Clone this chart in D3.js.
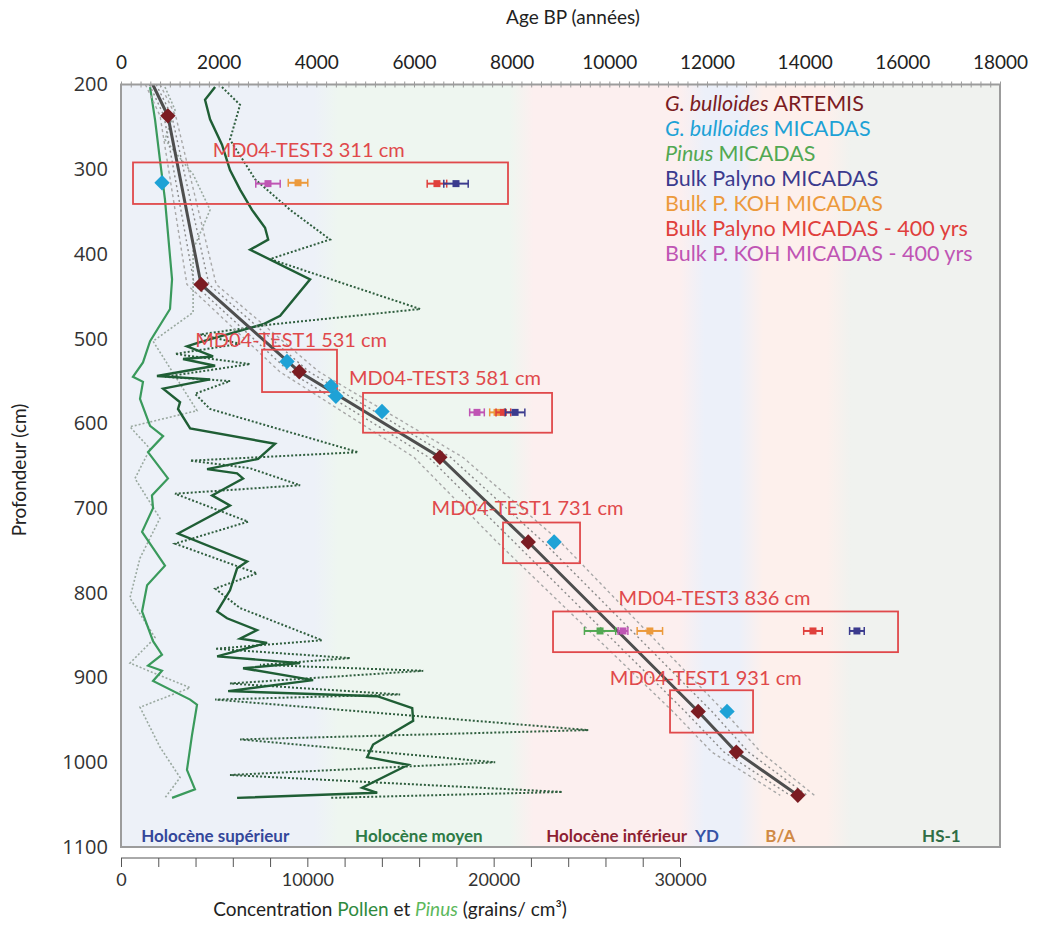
<!DOCTYPE html>
<html>
<head>
<meta charset="utf-8">
<script src="https://cdn.jsdelivr.net/npm/d3@7"></script>
<style>
  body { margin: 0; background: #fff; }
  svg { display: block; font-family: Lato, 'Open Sans', sans-serif; }
</style>
</head>
<body>
<svg id="chart"></svg>
<script>
// age model (G. bulloides ARTEMIS), depth in cm, age in years BP
const modelDepth = [200, 237, 436, 539, 640, 740, 940, 988, 1039];
const modelAge = [650, 960, 1640, 3650, 6530, 8340, 11820, 12600, 13860];
const outerLo = [500, 800, 1350, 3250, 6000, 7700, 11300, 12100, 13500];
const outerHi = [800, 1120, 1950, 4050, 7000, 9000, 12350, 13100, 14200];
const innerLo = [580, 880, 1500, 3450, 6300, 8050, 11550, 12350, 13700];
const innerHi = [720, 1040, 1800, 3850, 6750, 8650, 12100, 12850, 14050];

const artemisDepth = [237, 436, 539, 640, 740, 940, 988, 1039];
const artemisAge = [960, 1640, 3650, 6530, 8340, 11820, 12600, 13860];

const micadasDepth = [316, 527, 556, 568, 586, 740, 940];
const micadasAge = [840, 3400, 4300, 4400, 5345, 8870, 12410];

// dated samples with error bars
const sampleSeries = ['koh400', 'koh', 'palyno400', 'palyno', 'koh400', 'koh', 'palyno400', 'palyno', 'pinus', 'koh400', 'koh', 'palyno400', 'palyno'];
const sampleDepth = [317, 316, 317, 317, 587, 587, 587, 587, 845, 845, 845, 845, 845];
const sampleAge = [3010, 3625, 6470, 6860, 7290, 7700, 7830, 8070, 9810, 10280, 10830, 14170, 15070];
const sampleErr = [250, 200, 200, 250, 150, 150, 150, 200, 320, 100, 260, 190, 150];

// annotation boxes (age / depth extents)
const boxLabels = ['MD04-TEST3 311 cm', 'MD04-TEST1 531 cm', 'MD04-TEST3 581 cm', 'MD04-TEST1 731 cm', 'MD04-TEST3 836 cm', 'MD04-TEST1 931 cm'];
const boxAge0 = [246, 2888, 4956, 7823, 8847, 11243];
const boxAge1 = [7925, 4423, 8827, 9400, 15912, 12943];
const boxDepth0 = [292, 513, 564, 717, 822, 915];
const boxDepth1 = [341, 563, 611, 765, 870, 965];
const labelAge = [1880, 1520, 4670, 6360, 10190, 10010];
const labelDepth = [277, 501, 546, 700, 806, 900];

// pollen concentration (grains/cm3) vs depth
const pollenDepth = [203, 218, 241, 271, 301, 324, 348, 369, 383, 395, 430, 473, 483, 504, 509, 521, 524, 532, 544, 548, 559, 575, 583, 606, 624, 642, 654, 659, 665, 685, 697, 730, 763, 771, 797, 822, 830, 844, 854, 859, 875, 883, 889, 903, 916, 922, 936, 951, 979, 994, 1003, 1030, 1036, 1042];
const pollenConc = [5050, 4510, 4780, 5420, 5850, 6390, 7030, 7730, 7900, 6930, 10150, 8540, 7630, 4240, 3540, 4940, 3330, 5050, 1930, 4780, 2260, 3170, 3060, 3710, 8270, 7360, 4620, 6230, 6550, 4890, 5850, 3060, 6770, 6230, 5850, 5160, 5690, 7300, 6390, 7840, 5160, 9610, 6550, 10310, 5750, 13750, 15630, 15680, 13530, 13210, 15410, 12940, 13750, 6230];

const pinusDepth = [203, 242, 289, 336, 430, 465, 503, 528, 545, 551, 571, 603, 615, 634, 665, 685, 700, 728, 768, 791, 822, 857, 873, 886, 892, 904, 926, 932, 968, 1009, 1032, 1042];
const pinusConc = [1560, 1830, 2090, 2360, 2740, 2630, 1560, 1180, 640, 1180, 1020, 1560, 2260, 1450, 2520, 1660, 1720, 1130, 2360, 1400, 1130, 1720, 2200, 1450, 2200, 1720, 3710, 4080, 3810, 3540, 3970, 2740];

const pollenBDepth = [203, 224, 265, 312, 348, 383, 406, 465, 483, 495, 506, 518, 530, 545, 550, 565, 583, 634, 644, 653, 673, 683, 716, 742, 777, 795, 818, 856, 866, 877, 885, 892, 907, 920, 926, 962, 973, 1000, 1015, 1035, 1042];
const pollenBConc = [5420, 6390, 5850, 7200, 9080, 11220, 8000, 16060, 8160, 4240, 6390, 2900, 6930, 2360, 5850, 3970, 4780, 12730, 3710, 6930, 9610, 2900, 6820, 2900, 7300, 5050, 6390, 10790, 5050, 12300, 7460, 16220, 5850, 14980, 5050, 25080, 6390, 20080, 5850, 23690, 11220];

const pinusBDepth = [203, 230, 265, 306, 348, 395, 469, 503, 585, 604, 630, 665, 712, 759, 806, 853, 883, 912, 935, 982, 1018, 1042];
const pinusBConc = [2360, 2900, 2360, 3870, 4780, 3870, 3870, 1720, 4080, 480, 1560, 750, 2090, 1020, 480, 1830, 480, 3710, 1020, 2090, 3170, 2360];

// chronozones
const zoneNames = ['Holocène supérieur', 'Holocène moyen', 'Holocène inférieur', 'YD', 'B/A', 'HS-1'];
const zoneStart = [0, 4200, 8200, 11700, 12900, 14700];
const zoneEnd = [4200, 8200, 11700, 12900, 14700, 18000];
const zoneLabelAge = [1930, 6100, 10150, 12000, 13500, 16800];

const legendNames = ['G. bulloides|ARTEMIS', 'G. bulloides|MICADAS', 'Pinus|MICADAS', '|Bulk Palyno MICADAS', '|Bulk P. KOH MICADAS', '|Bulk Palyno MICADAS - 400 yrs', '|Bulk P. KOH MICADAS - 400 yrs'];

const ageTicks = d3.range(0, 18001, 2000);
const depthTicks = d3.range(200, 1101, 100);
const concTicks = d3.range(0, 30001, 2000);

const width = 1047, height = 929;
const plot = { left: 121, right: 1000, top: 84.5, bottom: 847 };

const colors = {
    artemis: '#7b1c22',
    micadas: '#1ea2d6',
    pinus: '#52a852',
    palyno: '#3b3b8e',
    koh: '#ec9a3c',
    palyno400: '#e0403c',
    koh400: '#bf55b4'
};
const legendColors = [colors.artemis, colors.micadas, colors.pinus, colors.palyno, colors.koh, colors.palyno400, colors.koh400];
const zoneColors = ['#edf1f8', '#eef6f0', '#fcefef', '#ecf0f9', '#fdf0ec', '#f0f2ef'];
const zoneTextColors = ['#34479a', '#2d7a45', '#8e1f33', '#3553a5', '#d08a45', '#2f6d45'];

const svg = d3.select('#chart')
    .attr('width', width)
    .attr('height', height);

const x = d3.scaleLinear().domain([0, 18000]).range([plot.left, plot.right]);
const xc = d3.scaleLinear().domain([0, 30000]).range([plot.left, 680]);
const y = d3.scaleLinear().domain([200, 1100]).range([plot.top, plot.bottom]);

// background chronozone bands as a soft gradient
const grad = svg.append('defs').append('linearGradient')
    .attr('id', 'zones')
    .attr('x1', 0).attr('x2', 1).attr('y1', 0).attr('y2', 0);
zoneStart.forEach((s, i) => {
    const blend = 250;
    const a = i === 0 ? 0 : (s + blend) / 18000;
    const b = i === zoneStart.length - 1 ? 1 : (zoneEnd[i] - blend) / 18000;
    grad.append('stop').attr('offset', a).attr('stop-color', zoneColors[i]);
    grad.append('stop').attr('offset', b).attr('stop-color', zoneColors[i]);
});

svg.append('rect')
    .attr('x', plot.left)
    .attr('y', plot.top)
    .attr('width', plot.right - plot.left)
    .attr('height', plot.bottom - plot.top)
    .attr('fill', 'url(#zones)');

// pollen curves
const pollenLine = d3.line().x(d => xc(d[1])).y(d => y(d[0]));

svg.append('path')
    .datum(pinusBDepth.map((d, i) => [d, pinusBConc[i]]))
    .attr('fill', 'none')
    .attr('stroke', '#9aa9a0')
    .attr('stroke-width', 1.6)
    .attr('stroke-dasharray', '2,2')
    .attr('d', pollenLine);

svg.append('path')
    .datum(pollenBDepth.map((d, i) => [d, pollenBConc[i]]))
    .attr('fill', 'none')
    .attr('stroke', '#2f5e3e')
    .attr('stroke-width', 2)
    .attr('stroke-dasharray', '2,2')
    .attr('d', pollenLine);

svg.append('path')
    .datum(pinusDepth.map((d, i) => [d, pinusConc[i]]))
    .attr('fill', 'none')
    .attr('stroke', '#3a9a5c')
    .attr('stroke-width', 2.2)
    .attr('d', pollenLine);

svg.append('path')
    .datum(pollenDepth.map((d, i) => [d, pollenConc[i]]))
    .attr('fill', 'none')
    .attr('stroke', '#1f5e35')
    .attr('stroke-width', 2.4)
    .attr('d', pollenLine);

// age model envelopes and line
const ageLine = d3.line().x(d => x(d[1])).y(d => y(d[0]));
[outerLo, outerHi].forEach(arr => {
    svg.append('path')
        .datum(modelDepth.map((d, i) => [d, arr[i]]))
        .attr('fill', 'none')
        .attr('stroke', '#a8a8a8')
        .attr('stroke-width', 1.4)
        .attr('stroke-dasharray', '3,3')
        .attr('d', ageLine);
});
[innerLo, innerHi].forEach(arr => {
    svg.append('path')
        .datum(modelDepth.map((d, i) => [d, arr[i]]))
        .attr('fill', 'none')
        .attr('stroke', '#8a8a8a')
        .attr('stroke-width', 1.4)
        .attr('stroke-dasharray', '2,3')
        .attr('d', ageLine);
});

svg.append('path')
    .datum(modelDepth.map((d, i) => [d, modelAge[i]]))
    .attr('fill', 'none')
    .attr('stroke', '#4e4e4e')
    .attr('stroke-width', 3)
    .attr('d', ageLine);

// annotation boxes
boxLabels.forEach((lab, i) => {
    svg.append('rect')
        .attr('x', x(boxAge0[i]))
        .attr('y', y(boxDepth0[i]))
        .attr('width', x(boxAge1[i]) - x(boxAge0[i]))
        .attr('height', y(boxDepth1[i]) - y(boxDepth0[i]))
        .attr('fill', 'none')
        .attr('stroke', '#e0494b')
        .attr('stroke-width', 1.8);
    svg.append('text')
        .attr('x', x(labelAge[i]))
        .attr('y', y(labelDepth[i]))
        .attr('dy', '0.35em')
        .style('font-size', '20px')
        .style('fill', '#e0494b')
        .text(lab);
});

// dated samples with error bars
const samples = svg.selectAll('.sample')
    .data(sampleSeries.map((s, i) => ({ s, depth: sampleDepth[i], age: sampleAge[i], err: sampleErr[i] })))
    .enter().append('g')
    .attr('class', 'sample');

samples.append('line')
    .attr('x1', d => x(d.age - d.err))
    .attr('x2', d => x(d.age + d.err))
    .attr('y1', d => y(d.depth))
    .attr('y2', d => y(d.depth))
    .attr('stroke', d => colors[d.s])
    .attr('stroke-width', 2);
samples.selectAll('.cap')
    .data(d => [d.age - d.err, d.age + d.err].map(a => ({ a, d })))
    .enter().append('line')
    .attr('x1', e => x(e.a)).attr('x2', e => x(e.a))
    .attr('y1', e => y(e.d.depth) - 4).attr('y2', e => y(e.d.depth) + 4)
    .attr('stroke', e => colors[e.d.s])
    .attr('stroke-width', 1.5);
samples.append('rect')
    .attr('x', d => x(d.age) - 3.5)
    .attr('y', d => y(d.depth) - 3.5)
    .attr('width', 7).attr('height', 7)
    .attr('fill', d => colors[d.s]);

const diamond = d3.symbol().type(d3.symbolDiamond2).size(150);

svg.selectAll('.micadas')
    .data(micadasDepth.map((d, i) => [d, micadasAge[i]]))
    .enter().append('path')
    .attr('class', 'micadas')
    .attr('transform', d => `translate(${x(d[1])},${y(d[0])})`)
    .attr('d', diamond)
    .attr('fill', colors.micadas);

svg.selectAll('.artemis')
    .data(artemisDepth.map((d, i) => [d, artemisAge[i]]))
    .enter().append('path')
    .attr('class', 'artemis')
    .attr('transform', d => `translate(${x(d[1])},${y(d[0])})`)
    .attr('d', diamond)
    .attr('fill', colors.artemis);

// plot frame
svg.append('rect')
    .attr('x', plot.left)
    .attr('y', plot.top)
    .attr('width', plot.right - plot.left)
    .attr('height', plot.bottom - plot.top)
    .attr('fill', 'none')
    .attr('stroke', '#9c9c9c')
    .attr('stroke-width', 2);

// top axis (age)
const topAxis = svg.append('g')
    .attr('transform', `translate(0,${plot.top})`)
    .call(d3.axisTop(x).tickValues(ageTicks).tickSize(0).tickPadding(16).tickFormat(d3.format('d')));
topAxis.select('.domain').remove();
topAxis.selectAll('text')
    .style('font-family', 'Lato')
    .style('font-size', '19px')
    .style('fill', '#222');

const minor = svg.append('g')
    .attr('transform', `translate(0,${plot.top - 3})`)
    .call(d3.axisBottom(x).tickValues(d3.range(0, 18001, 200)).tickSize(6).tickFormat(''));
minor.select('.domain').remove();
minor.selectAll('line').attr('stroke', '#9c9c9c');

// left axis (depth)
const leftAxis = svg.append('g')
    .attr('transform', `translate(${plot.left},0)`)
    .call(d3.axisLeft(y).tickValues(depthTicks).tickSize(0).tickPadding(13).tickFormat(d3.format('d')));
leftAxis.select('.domain').remove();
leftAxis.selectAll('text')
    .style('font-family', 'Open Sans')
    .style('font-size', '20px')
    .style('fill', '#333');

// bottom axis (concentration)
const bottomAxis = svg.append('g')
    .attr('transform', 'translate(0,858)')
    .call(d3.axisBottom(xc).tickValues(concTicks).tickSize(9).tickPadding(6)
        .tickFormat(d => d % 10000 === 0 ? d : ''));
bottomAxis.select('.domain').attr('stroke', '#555').attr('d', `M${xc(0)},0H${xc(30000)}`);
bottomAxis.selectAll('line').attr('stroke', '#555');
bottomAxis.selectAll('text')
    .style('font-family', 'Lato')
    .style('font-size', '18px')
    .style('fill', '#333');

// titles
svg.append('text')
    .attr('x', 573).attr('y', 24)
    .attr('text-anchor', 'middle')
    .style('font-size', '19px')
    .style('fill', '#222')
    .text('Age BP (années)');

svg.append('text')
    .attr('transform', 'rotate(-90)')
    .attr('x', -470).attr('y', 26)
    .attr('text-anchor', 'middle')
    .style('font-size', '19px')
    .style('fill', '#222')
    .text('Profondeur (cm)');

const bottomTitle = svg.append('text')
    .attr('x', 390).attr('y', 916)
    .attr('text-anchor', 'middle')
    .style('font-size', '19px')
    .style('fill', '#222');
bottomTitle.append('tspan').text('Concentration ');
bottomTitle.append('tspan').style('fill', '#2e8a3e').text('Pollen');
bottomTitle.append('tspan').text(' et ');
bottomTitle.append('tspan').style('fill', '#5cb85c').style('font-style', 'italic').text('Pinus');
bottomTitle.append('tspan').text(' (grains/ cm³)');

// chronozone labels
svg.selectAll('.zone')
    .data(zoneNames)
    .enter().append('text')
    .attr('class', 'zone')
    .attr('x', (d, i) => x(zoneLabelAge[i]))
    .attr('y', 836)
    .attr('dy', '0.35em')
    .attr('text-anchor', 'middle')
    .style('font-size', '17px')
    .style('font-weight', 'bold')
    .style('fill', (d, i) => zoneTextColors[i])
    .text(d => d);

// legend
const legend = svg.append('g');
legendNames.forEach((name, i) => {
    const parts = name.split('|');
    const t = legend.append('text')
        .attr('x', 665)
        .attr('y', 103 + i * 25)
        .attr('dy', '0.35em')
        .style('font-size', '21.5px')
        .style('fill', legendColors[i]);
    if (parts[0]) t.append('tspan').style('font-style', 'italic').text(parts[0] + ' ');
    t.append('tspan').text(parts[1]);
});
</script>
</body>
</html>
